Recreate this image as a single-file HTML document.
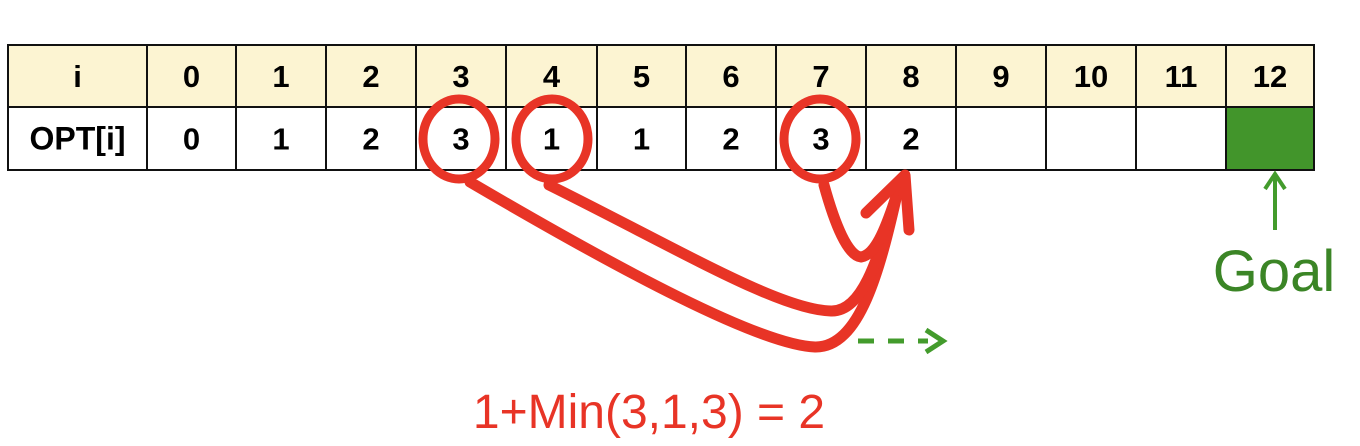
<!DOCTYPE html>
<html><head><meta charset="utf-8">
<style>
body{margin:0;background:#fff;width:1360px;height:446px;overflow:hidden}
svg{display:block}
text{font-family:"Liberation Sans",sans-serif}
</style></head><body>
<svg width="1360" height="446" viewBox="0 0 1360 446">
<g id="table"></g>
<g fill="none" stroke="#e83426" stroke-width="9">
<ellipse cx="459" cy="139" rx="36" ry="40"/>
<ellipse cx="552" cy="139" rx="36" ry="40"/>
<ellipse cx="820" cy="139" rx="36" ry="40"/>
</g>
<g fill="none" stroke="#e83426" stroke-width="11" stroke-linecap="round" stroke-linejoin="round">
<path d="M470 182 C620 270 760 345 815 347 C860 348 880 270 898 190"/>
<path d="M549 185 C680 250 780 310 831 311 C865 312 880 250 898 190"/>
<path d="M824 185 C835 225 848 256 861 257 C875 255 885 230 895 200"/>
<path d="M866 213 L905 175 L909 230"/>
</g>
<g stroke="#439b2c" stroke-width="5" fill="none">
<line x1="858" y1="341" x2="928" y2="341" stroke-dasharray="16,14"/>
<path d="M926 330 L943 341 L926 352" stroke-linejoin="miter"/>
</g>
<g stroke="#439b2c" stroke-width="4" fill="none">
<line x1="1275" y1="174" x2="1275" y2="230"/>
<path d="M1265 189 L1275 174 L1285 189"/>
</g>
<text x="1274" y="291" font-size="58" fill="#3b8526" text-anchor="middle">Goal</text>
<text x="649" y="428" font-size="48" fill="#e83426" text-anchor="middle">1+Min(3,1,3) = 2</text>
</svg>
<script>
const indices=["i","0","1","2","3","4","5","6","7","8","9","10","11","12"];
const optValues=["OPT[i]","0","1","2","3","1","1","2","3","2","","","",""];
const colX=[8,147,236,326,416,506,597,686,776,866,956,1046,1136,1226,1314];
const g=document.getElementById('table');
const NS='http://www.w3.org/2000/svg';
const rows=[[45,107,indices,'#fcf4d2'],[107,170,optValues,'#ffffff']];
rows.forEach((r,ri)=>{
  r[2].forEach((v,ci)=>{
    const x0=colX[ci],x1=colX[ci+1];
    const rect=document.createElementNS(NS,'rect');
    
    
    rect.setAttribute('x',x0);rect.setAttribute('y',r[0]);
    rect.setAttribute('width',x1-x0);rect.setAttribute('height',r[1]-r[0]);
    const goal=(ri===1&&ci===13);
    rect.setAttribute('fill',goal?'#42952b':r[3]);
    rect.setAttribute('stroke','#111');rect.setAttribute('stroke-width','2');
    g.appendChild(rect);
    if(v!==''){
      const t=document.createElementNS(NS,'text');
      
      
      t.setAttribute('x',(x0+x1)/2);t.setAttribute('y',(r[0]+r[1])/2+11);
      t.setAttribute('text-anchor','middle');t.setAttribute('font-size',ci===0&&ri===1?'32':'31');
      t.setAttribute('font-weight','bold');
      t.setAttribute('fill','#000');
      t.textContent=v;g.appendChild(t);
    }
  });
});
</script>
</body></html>
